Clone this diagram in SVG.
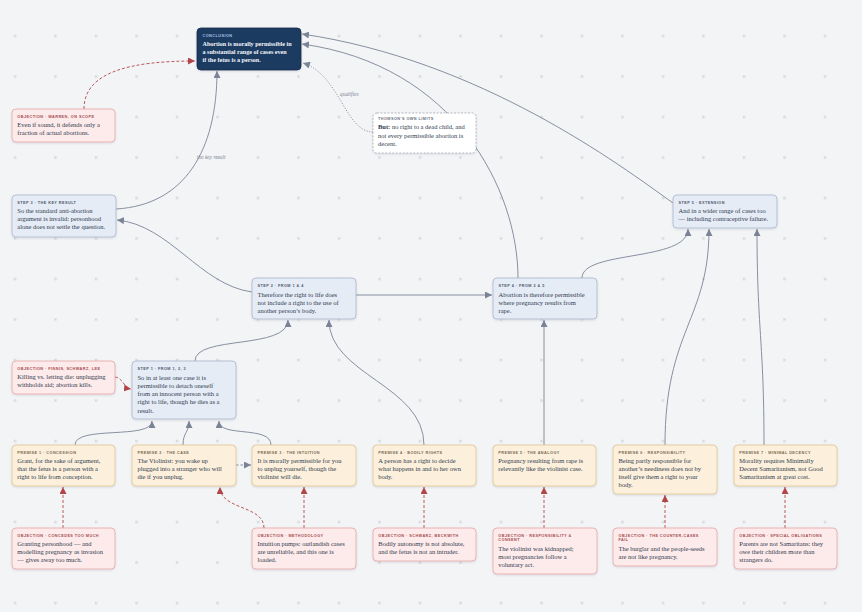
<svg xmlns="http://www.w3.org/2000/svg" width="862" height="612" viewBox="0 0 862 612">
<defs>
<pattern id="dots" x="13.75" y="34.75" width="40.5" height="40.5" patternUnits="userSpaceOnUse">
<rect x="0" y="0" width="2.5" height="2.5" fill="#d7dade"/>
</pattern>
<filter id="sh" x="-10%" y="-10%" width="120%" height="130%">
<feDropShadow dx="0" dy="1" stdDeviation="1.2" flood-color="#1e2a40" flood-opacity="0.12"/>
</filter>
<marker id="ag" viewBox="0 0 10 10" refX="10" refY="5" markerWidth="7" markerHeight="7" markerUnits="userSpaceOnUse" orient="auto">
<path d="M0,0 L10,5 L0,10 z" fill="#7b8396"/>
</marker>
<marker id="ar" viewBox="0 0 10 10" refX="10" refY="5" markerWidth="7" markerHeight="7" markerUnits="userSpaceOnUse" orient="auto">
<path d="M0,0 L10,5 L0,10 z" fill="#b2454a"/>
</marker>
<style>
.lbl{font-family:"Liberation Sans",Arial,sans-serif;font-size:3.8px;font-weight:700;letter-spacing:0.45px}
.body{font-family:"Liberation Serif","Times New Roman",serif;font-size:6.5px;fill:#2f3a4e}
.step rect{fill:#e5ecf6;stroke:#a9b6cc;stroke-width:0.8}
.step .lbl{fill:#4e586c}
.prem rect{fill:#fcf0dc;stroke:#e0c48e;stroke-width:0.8}
.prem .lbl{fill:#7a6a52}
.obj rect{fill:#fdeaea;stroke:#e6a6a6;stroke-width:0.8}
.obj .lbl{fill:#a54d52}
.concl rect{fill:#1f3a60;stroke:#152a48;stroke-width:0.8}
.concl .lbl{fill:#a8c3ea}
.concl .body{fill:#f4f7fc;font-weight:700;font-size:6.1px}
.note rect{fill:#ffffff;stroke:#a3a8b2;stroke-width:0.8;stroke-dasharray:2 1.5}
.note .lbl{fill:#6b7280}
.g{fill:none;stroke:#7b8396;stroke-width:0.9}
.r{fill:none;stroke:#b2454a;stroke-width:0.9;stroke-dasharray:3 2}
.gd{fill:none;stroke:#7b8396;stroke-width:0.9;stroke-dasharray:2.5 2}
.gdot{fill:none;stroke:#8a91a0;stroke-width:0.9;stroke-dasharray:1.2 1.5}
.elbl{font-family:"Liberation Serif",serif;font-style:italic;font-size:5.4px;fill:#7b8396}
</style>
</defs>
<rect width="862" height="612" fill="#f3f4f6"/>
<rect width="862" height="612" fill="url(#dots)"/>

<g id="connectors">
<path class="r" d="M84,109 C84,72 130,61 195,61" marker-end="url(#ar)"/>
<path class="g" d="M116,209 C185,205 217,150 217,71" marker-end="url(#ag)"/>
<text class="elbl" x="197" y="158.8">the key result</text>
<path class="g" d="M252,292 C200,285 170,225 117,220" marker-end="url(#ag)"/>
<path class="g" d="M195,361 C195,335 288,350 288,320" marker-end="url(#ag)"/>
<path class="g" d="M424,445 C424,385 329,375 329,320" marker-end="url(#ag)"/>
<path class="g" d="M356,295 L492,295" marker-end="url(#ag)"/>
<path class="g" d="M544,445 L544,320" marker-end="url(#ag)"/>
<path class="g" d="M518,278 C518,190 455,65 302,44" marker-end="url(#ag)"/>
<path class="g" d="M673,203 C620,165 480,60 302,34" marker-end="url(#ag)"/>
<path class="g" d="M582,278 C582,250 688,262 688,229" marker-end="url(#ag)"/>
<path class="g" d="M665,445 C665,330 709,320 709,229" marker-end="url(#ag)"/>
<path class="g" d="M764,445 C764,340 757,330 757,229" marker-end="url(#ag)"/>
<path class="gdot" d="M373,132 C345,132 340,75 303,63" marker-end="url(#ag)"/>
<text class="elbl" x="340" y="96">qualifies</text>
<path class="g" d="M75,445 C75,425 152,440 152,421" marker-end="url(#ag)"/>
<path class="g" d="M183,445 C183,432 189,433 189,421" marker-end="url(#ag)"/>
<path class="g" d="M271,445 C271,425 219,438 219,421" marker-end="url(#ag)"/>
<path class="gd" d="M236,465 L251,465" marker-end="url(#ag)"/>
<path class="r" d="M115,377 C123,378 124,388 131,389" marker-end="url(#ar)"/>
<path class="r" d="M63,528 L63,487" marker-end="url(#ar)"/>
<path class="r" d="M264,528 C264,505 220,510 220,487" marker-end="url(#ar)"/>
<path class="r" d="M304,528 L304,487" marker-end="url(#ar)"/>
<path class="r" d="M424,528 L424,487" marker-end="url(#ar)"/>
<path class="r" d="M544,528 L544,487" marker-end="url(#ar)"/>
<path class="r" d="M665,528 L665,495" marker-end="url(#ar)"/>
<path class="r" d="M785,528 L785,487" marker-end="url(#ar)"/>
</g>

<g id="conclusion" class="concl">
<rect x="197" y="28" width="104" height="42" rx="4" filter="url(#sh)"/>
<text class="lbl" x="202.5" y="37.2">CONCLUSION</text>
<text class="body" x="202.5" y="46.3">Abortion is morally permissible in</text>
<text class="body" x="202.5" y="54.3">a substantial range of cases even</text>
<text class="body" x="202.5" y="62.3">if the fetus is a person.</text>
</g>

<g id="obj-warren" class="obj">
<rect x="12" y="109" width="103" height="33" rx="4" filter="url(#sh)"/>
<text class="lbl" x="17.3" y="118">OBJECTION · WARREN, ON SCOPE</text>
<text class="body" x="17.3" y="127.3">Even if sound, it defends only a</text>
<text class="body" x="17.3" y="135.3">fraction of actual abortions.</text>
</g>

<g id="thomson-limits" class="note">
<rect x="373" y="113" width="103" height="40" rx="4" filter="url(#sh)"/>
<text class="lbl" x="378" y="120.2">THOMSON'S OWN LIMITS</text>
<text class="body" x="378" y="129.3"><tspan font-weight="700">But:</tspan> no right to a dead child, and</text>
<text class="body" x="378" y="137.7">not every permissible abortion is</text>
<text class="body" x="378" y="146">decent.</text>
</g>

<g id="step3" class="step">
<rect x="12" y="195" width="104" height="42" rx="4" filter="url(#sh)"/>
<text class="lbl" x="17.3" y="203.7">STEP 3 · THE KEY RESULT</text>
<text class="body" x="17.3" y="213">So the standard anti-abortion</text>
<text class="body" x="17.3" y="221">argument is invalid: personhood</text>
<text class="body" x="17.3" y="229">alone does not settle the question.</text>
</g>

<g id="step2" class="step">
<rect x="252" y="278" width="104" height="41" rx="4" filter="url(#sh)"/>
<text class="lbl" x="257.5" y="286.7">STEP 2 · FROM 1 &amp; 4</text>
<text class="body" x="257.5" y="296.7">Therefore the right to life does</text>
<text class="body" x="257.5" y="304.7">not include a right to the use of</text>
<text class="body" x="257.5" y="312.7">another person’s body.</text>
</g>

<g id="step4" class="step">
<rect x="493" y="278" width="104" height="41" rx="4" filter="url(#sh)"/>
<text class="lbl" x="498.5" y="286.7">STEP 4 · FROM 2 &amp; 5</text>
<text class="body" x="498.5" y="296.7">Abortion is therefore permissible</text>
<text class="body" x="498.5" y="304.7">where pregnancy results from</text>
<text class="body" x="498.5" y="312.7">rape.</text>
</g>

<g id="step5" class="step">
<rect x="673" y="195" width="104" height="33" rx="4" filter="url(#sh)"/>
<text class="lbl" x="678.5" y="204">STEP 5 · EXTENSION</text>
<text class="body" x="678.5" y="213.3">And in a wider range of cases too</text>
<text class="body" x="678.5" y="221.3">— including contraceptive failure.</text>
</g>

<g id="step1" class="step">
<rect x="132" y="361" width="104" height="58" rx="4" filter="url(#sh)"/>
<text class="lbl" x="137.5" y="369.7">STEP 1 · FROM 1, 2, 3</text>
<text class="body" x="137.5" y="379.7">So in at least one case it is</text>
<text class="body" x="137.5" y="387.9">permissible to detach oneself</text>
<text class="body" x="137.5" y="396.1">from an innocent person with a</text>
<text class="body" x="137.5" y="404.3">right to life, though he dies as a</text>
<text class="body" x="137.5" y="412.5">result.</text>
</g>

<g id="obj-finnis" class="obj">
<rect x="12" y="361" width="103" height="33" rx="4" filter="url(#sh)"/>
<text class="lbl" x="17.3" y="369.7">OBJECTION · FINNIS, SCHWARZ, LEE</text>
<text class="body" x="17.3" y="379">Killing vs. letting die: unplugging</text>
<text class="body" x="17.3" y="387">withholds aid; abortion kills.</text>
</g>

<g id="premise1" class="prem">
<rect x="12" y="445" width="103" height="41" rx="4" filter="url(#sh)"/>
<text class="lbl" x="17.3" y="454">PREMISE 1 · CONCESSION</text>
<text class="body" x="17.3" y="463.3">Grant, for the sake of argument,</text>
<text class="body" x="17.3" y="471.3">that the fetus is a person with a</text>
<text class="body" x="17.3" y="479.3">right to life from conception.</text>
</g>

<g id="premise2" class="prem">
<rect x="132" y="445" width="104" height="41" rx="4" filter="url(#sh)"/>
<text class="lbl" x="137.5" y="454">PREMISE 2 · THE CASE</text>
<text class="body" x="137.5" y="463.3">The Violinist: you wake up</text>
<text class="body" x="137.5" y="471.3">plugged into a stranger who will</text>
<text class="body" x="137.5" y="479.3">die if you unplug.</text>
</g>

<g id="premise3" class="prem">
<rect x="252" y="445" width="104" height="41" rx="4" filter="url(#sh)"/>
<text class="lbl" x="257.5" y="454">PREMISE 3 · THE INTUITION</text>
<text class="body" x="257.5" y="463.3">It is morally permissible for you</text>
<text class="body" x="257.5" y="471.3">to unplug yourself, though the</text>
<text class="body" x="257.5" y="479.3">violinist will die.</text>
</g>

<g id="premise4" class="prem">
<rect x="373" y="445" width="103" height="41" rx="4" filter="url(#sh)"/>
<text class="lbl" x="378.3" y="454">PREMISE 4 · BODILY RIGHTS</text>
<text class="body" x="378.3" y="463.3">A person has a right to decide</text>
<text class="body" x="378.3" y="471.3">what happens in and to her own</text>
<text class="body" x="378.3" y="479.3">body.</text>
</g>

<g id="premise5" class="prem">
<rect x="493" y="445" width="103" height="41" rx="4" filter="url(#sh)"/>
<text class="lbl" x="498.3" y="454">PREMISE 5 · THE ANALOGY</text>
<text class="body" x="498.3" y="463.3">Pregnancy resulting from rape is</text>
<text class="body" x="498.3" y="471.3">relevantly like the violinist case.</text>
</g>

<g id="premise6" class="prem">
<rect x="613" y="445" width="104" height="49" rx="4" filter="url(#sh)"/>
<text class="lbl" x="618.5" y="454">PREMISE 6 · RESPONSIBILITY</text>
<text class="body" x="618.5" y="463.3">Being partly responsible for</text>
<text class="body" x="618.5" y="471.3">another’s neediness does not by</text>
<text class="body" x="618.5" y="479.3">itself give them a right to your</text>
<text class="body" x="618.5" y="487.3">body.</text>
</g>

<g id="premise7" class="prem">
<rect x="734" y="445" width="103" height="41" rx="4" filter="url(#sh)"/>
<text class="lbl" x="739.3" y="454">PREMISE 7 · MINIMAL DECENCY</text>
<text class="body" x="739.3" y="463.3">Morality requires Minimally</text>
<text class="body" x="739.3" y="471.3">Decent Samaritanism, not Good</text>
<text class="body" x="739.3" y="479.3">Samaritanism at great cost.</text>
</g>

<g id="obj-concedes" class="obj">
<rect x="12" y="528" width="103" height="41" rx="4" filter="url(#sh)"/>
<text class="lbl" x="17.3" y="536.7">OBJECTION · CONCEDES TOO MUCH</text>
<text class="body" x="17.3" y="546">Granting personhood — and</text>
<text class="body" x="17.3" y="554">modelling pregnancy as invasion</text>
<text class="body" x="17.3" y="562">— gives away too much.</text>
</g>

<g id="obj-methodology" class="obj">
<rect x="252" y="528" width="104" height="41" rx="4" filter="url(#sh)"/>
<text class="lbl" x="257.5" y="536.7">OBJECTION · METHODOLOGY</text>
<text class="body" x="257.5" y="546">Intuition pumps: outlandish cases</text>
<text class="body" x="257.5" y="554">are unreliable, and this one is</text>
<text class="body" x="257.5" y="562">loaded.</text>
</g>

<g id="obj-schwarz" class="obj">
<rect x="373" y="528" width="103" height="33" rx="4" filter="url(#sh)"/>
<text class="lbl" x="378.3" y="536.7">OBJECTION · SCHWARZ, BECKWITH</text>
<text class="body" x="378.3" y="546">Bodily autonomy is not absolute,</text>
<text class="body" x="378.3" y="554">and the fetus is not an intruder.</text>
</g>

<g id="obj-responsibility" class="obj">
<rect x="493" y="528" width="104" height="46" rx="4" filter="url(#sh)"/>
<text class="lbl" x="498.3" y="536.7">OBJECTION · RESPONSIBILITY &amp;</text>
<text class="lbl" x="498.3" y="541.2">CONSENT</text>
<text class="body" x="498.3" y="550.7">The violinist was kidnapped;</text>
<text class="body" x="498.3" y="559">most pregnancies follow a</text>
<text class="body" x="498.3" y="567.3">voluntary act.</text>
</g>

<g id="obj-counter" class="obj">
<rect x="613" y="528" width="104" height="38" rx="4" filter="url(#sh)"/>
<text class="lbl" x="618.5" y="536.7">OBJECTION · THE COUNTER-CASES</text>
<text class="lbl" x="618.5" y="541.2">FAIL</text>
<text class="body" x="618.5" y="550.7">The burglar and the people-seeds</text>
<text class="body" x="618.5" y="558.7">are not like pregnancy.</text>
</g>

<g id="obj-special" class="obj">
<rect x="734" y="528" width="103" height="41" rx="4" filter="url(#sh)"/>
<text class="lbl" x="739.3" y="536.7">OBJECTION · SPECIAL OBLIGATIONS</text>
<text class="body" x="739.3" y="546">Parents are not Samaritans: they</text>
<text class="body" x="739.3" y="554">owe their children more than</text>
<text class="body" x="739.3" y="562">strangers do.</text>
</g>
</svg>
